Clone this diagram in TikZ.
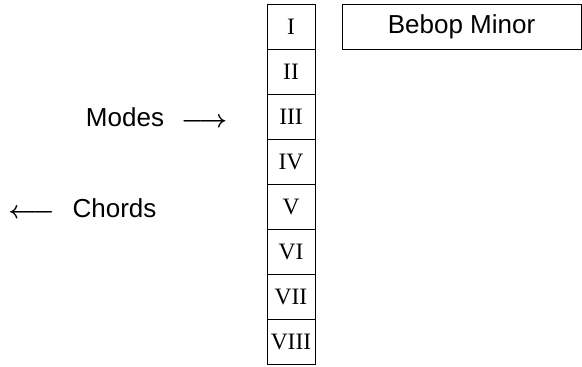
\documentclass[tikz,border=0pt]{standalone}
\usepackage{fontspec}
\setmainfont{Liberation Serif}
\setsansfont{Liberation Sans}
\usepackage{tikz}
\usetikzlibrary{positioning}

\begin{document}
\begin{tikzpicture}[
    x=1pt, y=1pt,
    every node/.style={inner sep=0pt, outer sep=0pt},
    cell/.style={draw, line width=0.8pt, minimum width=48pt, minimum height=45pt,
                 font=\fontsize{23.5}{26}\selectfont\rmfamily},
    titlebox/.style={draw, line width=0.8pt, minimum width=239pt, minimum height=45pt,
                 font=\fontsize{26}{30}\selectfont\sffamily},
    lbl/.style={font=\fontsize{26}{30}\selectfont\sffamily},
    arrowglyph/.style={font=\fontsize{28}{30}\selectfont\boldmath},
]
  \useasboundingbox (0,0) rectangle (582,-367);

  % column of degrees
  \foreach \num [count=\i] in {I,II,III,IV,V,VI,VII,VIII}
    \node[cell] (r\i) at (291,{-26.5-(\i-1)*45}) {\num};

  % scale name
  \node[titlebox, right=27pt of r1] (scale) {Bebop Minor};

  % side labels
  \node[lbl, anchor=base] (modes) at (125,-126) {Modes};
  \node[arrowglyph, right=17pt of modes.base east, anchor=base west, yshift=-1pt] (modesarr) {$\longrightarrow$};
  \node[lbl, anchor=base] (chords) at (114.5,-217) {Chords};
  \node[arrowglyph, left=18pt of chords.base west, anchor=base east, yshift=-1pt] (chordsarr) {$\longleftarrow$};
\end{tikzpicture}
\end{document}
